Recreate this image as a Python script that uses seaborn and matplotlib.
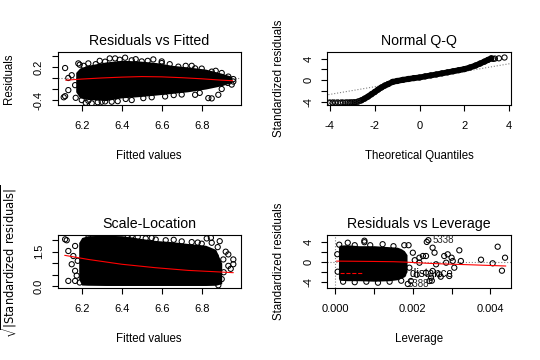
import matplotlib
matplotlib.use("Agg")
import matplotlib.pyplot as plt
from matplotlib.lines import Line2D
import seaborn as sns

# ---- Residuals vs Fitted ----
RF_X = [6.17, 6.19, 6.23, 6.32, 6.40, 6.48, 6.57, 6.65, 6.73, 6.82, 6.90, 6.95]
RF_UP = [0.10, 0.18, 0.23, 0.29, 0.32, 0.31, 0.28, 0.23, 0.20, 0.16, 0.085, 0.03]
RF_LO = [-0.25, -0.36, -0.39, -0.41, -0.36, -0.34, -0.31, -0.28, -0.25, -0.20, -0.14, -0.08]
RF_PX = [6.117, 6.133, 6.133, 6.117, 6.11, 6.17, 6.167, 6.19, 6.15,
         6.183, 6.233, 6.27, 6.317, 6.34, 6.367, 6.417, 6.45, 6.5, 6.558, 6.6,
         6.683, 6.72, 6.767, 6.8, 6.85, 6.9, 6.933,
         6.958, 6.958, 6.95, 6.93,
         6.883, 6.833, 6.85, 6.767, 6.7, 6.617, 6.55, 6.508, 6.45, 6.38,
         6.317, 6.28, 6.233, 6.2, 6.25, 6.22, 6.35, 6.9, 6.6,
         6.21, 6.29, 6.39, 6.47, 6.53, 6.64, 6.75, 6.87, 6.79, 6.66, 6.42, 6.3]
RF_PY = [0.18, 0.0, -0.22, -0.33, -0.35, -0.36, -0.13, 0.24, 0.05,
         0.264, 0.264, 0.25, 0.295, 0.354, 0.354, 0.367, 0.32, 0.30, 0.336, 0.27,
         0.205, 0.22, 0.174, 0.17, 0.115, 0.09, 0.025,
         -0.065, -0.02, -0.12, -0.09,
         -0.305, -0.365, -0.37, -0.305, -0.30, -0.335, -0.35, -0.365, -0.40, -0.42,
         -0.425, -0.44, -0.413, -0.40, -0.46, -0.45, -0.43, -0.20, 0.30,
         0.22, 0.31, 0.33, 0.34, 0.31, 0.25, 0.22, 0.13, -0.27, -0.31, -0.38, -0.43]
RF_LX = [6.12, 6.2, 6.3, 6.4, 6.5, 6.6, 6.7, 6.8, 6.9, 6.955]
RF_LY = [-0.04, -0.02, 0.0, 0.015, 0.025, 0.02, 0.005, -0.015, -0.04, -0.05]

# ---- Normal Q-Q ----
QQ_X = [-2.9, -2.75, -2.6, -2.45, -2.3, -2.15, -2.0, -1.85, -1.7, -1.55, -1.4,
        -1.2, -1.0, -0.75, -0.5, -0.25, 0.0, 0.25, 0.5, 0.75, 1.0, 1.25, 1.5,
        1.75, 2.0, 2.25, 2.5, 2.7, 2.9, 3.05, 3.2]
QQ_Y = [-4.1, -3.98, -3.75, -3.42, -3.05, -2.62, -2.2, -1.75, -1.35, -1.0, -0.72,
        -0.32, -0.15, 0.05, 0.22, 0.38, 0.5, 0.7, 0.88, 1.06, 1.26, 1.45, 1.65,
        1.85, 2.05, 2.35, 2.72, 3.08, 3.45, 3.75, 4.05]
QQ_TX = [-4.0, -3.88, -3.76, -3.64, -3.52, -3.42, -3.32, -3.22, -3.13, -3.05, -2.98,
         3.28, 3.36, 3.54, 3.79]
QQ_TY = [-4.22, -4.2, -4.2, -4.19, -4.18, -4.18, -4.17, -4.17, -4.16, -4.15, -4.13,
         3.95, 4.0, 4.05, 4.2]
QQ_REF_X = [-4.2, 4.1]
QQ_REF_Y = [-2.78, 3.11]

# ---- Scale-Location ----
PS_X = [6.185, 6.2, 6.23, 6.32, 6.40, 6.48, 6.57, 6.65, 6.73, 6.82, 6.87, 6.90]
PS_UP = [1.9, 2.12, 2.2, 2.22, 2.2, 2.1, 1.99, 1.94, 1.86, 1.78, 1.6, 1.0]
PS_LO = [0.3, 0.04, 0.03, 0.02, 0.02, 0.02, 0.02, 0.02, 0.02, 0.02, 0.03, 0.1]
PS_PX = [6.117, 6.125, 6.167, 6.133, 6.158, 6.15, 6.167, 6.133, 6.167, 6.19, 6.175, 6.18,
         6.233, 6.3, 6.35, 6.43, 6.48, 6.52, 6.57, 6.62, 6.7, 6.75, 6.8,
         6.825, 6.846, 6.85, 6.89, 6.933, 6.958, 6.958, 6.933, 6.908, 6.92,
         6.88, 6.91, 6.883, 6.9, 6.945, 6.87, 6.55, 6.66, 6.78, 6.45]
PS_PY = [2.04, 2.0, 1.75, 1.53, 1.31, 0.95, 0.66, 0.22, 0.22, 0.15, 0.45, 1.1,
         2.22, 2.23, 2.22, 2.2, 2.15, 2.08, 2.03, 2.0, 1.95, 1.92, 1.85,
         2.08, 2.11, 1.89, 1.96, 1.38, 1.16, 0.95, 0.88, 1.16, 1.5,
         1.7, 0.6, 0.03, 0.3, 0.75, 1.3, 2.1, 2.02, 1.9, 2.2]
PS_LX = [6.115, 6.233, 6.4, 6.567, 6.733, 6.85, 6.958]
PS_LY = [1.34, 1.16, 0.95, 0.80, 0.68, 0.63, 0.58]

# ---- Residuals vs Leverage ----
LV_X = [0.00008, 0.0001, 0.0003, 0.0006, 0.001, 0.0014, 0.0016, 0.0017, 0.00178, 0.00185]
LV_UP = [2.8, 3.3, 3.4, 3.2, 3.2, 3.0, 2.9, 2.6, 2.2, 1.4]
LV_LO = [-3.3, -3.7, -3.8, -3.8, -3.9, -3.8, -3.6, -3.3, -3.0, -2.0]
LV_PX = [0.0001, 0.00032, 0.0005, 0.00075, 0.00075, 0.0009, 0.00122, 0.0015, 0.00178, 0.00189,
         0.00005, 0.00006, 0.0002, 0.0005, 0.0008, 0.0011, 0.0014, 0.0017,
         0.00236, 0.0024, 0.00251, 0.00256, 0.00226, 0.00234, 0.00217, 0.00281, 0.0029,
         0.0032, 0.00286, 0.00303, 0.00324, 0.00376, 0.00406, 0.00419, 0.00438, 0.0043,
         0.00307, 0.0026, 0.00251, 0.00234, 0.00247, 0.00243, 0.00268, 0.00294, 0.00191,
         0.00195, 0.00187, 0.00217, 0.003, 0.00272, 0.00249, 0.002, 0.0021, 0.00205]
LV_PY = [3.4, 3.8, 3.3, 4.2, 3.9, 3.3, 3.5, 3.1, 3.3, 3.3,
         1.5, -2.0, -4.0, -4.1, -4.0, -4.2, -4.0, -3.8,
         3.95, 4.3, 2.8, 1.8, 1.14, 1.14, 0.8, 1.14, 1.48,
         2.28, -0.2, 0.14, 0.14, 0.4, -0.32, 3.0, 0.8, -1.8,
         -1.2, -0.52, -1.86, -2.2, -3.2, -3.86, -2.52, -2.86, -1.2,
         -3.86, -4.45, -0.2, 0.8, -3.0, -3.8, 1.8, -2.6, 0.3]
LV_LX = [0.00003, 0.0005, 0.001, 0.0015, 0.0018, 0.0025, 0.003, 0.0035, 0.0044]
LV_LY = [0.12, 0.09, 0.05, 0.0, -0.08, -0.36, -0.5, -0.62, -0.86]

sns.set_style("ticks")
plt.rcParams["font.family"] = ["Liberation Sans", "DejaVu Sans"]
plt.rcParams["text.color"] = "black"

fig = plt.figure(figsize=(5.4, 3.6), dpi=100)
ax1 = fig.add_axes([0.1065, 0.7083, 0.3389, 0.1472])
ax2 = fig.add_axes([0.6056, 0.7083, 0.3407, 0.1472])
ax3 = fig.add_axes([0.1065, 0.2000, 0.3389, 0.1472])
ax4 = fig.add_axes([0.6056, 0.2000, 0.3407, 0.1472])

PT = dict(marker="o", s=14, facecolors="none", edgecolor="black", linewidth=0.75, zorder=3)
RED = dict(color="red", linewidth=0.8, zorder=5)


def style(ax, title, xlabel, ylabel, xticks, xlabels, yticks, ylabels, xlim, ylim):
    ax.set_xlim(*xlim)
    ax.set_ylim(*ylim)
    ax.set_xticks(xticks)
    ax.set_xticklabels(xlabels)
    ax.set_yticks(yticks)
    ax.set_yticklabels(ylabels)
    for side in ax.spines.values():
        side.set_color("black")
        side.set_linewidth(0.8)
        side.set_visible(True)
    ax.tick_params(length=4.3, width=0.8, color="black", labelsize=8.0,
                   labelcolor="black")
    ax.tick_params(axis="x", pad=7.5)
    ax.tick_params(axis="y", pad=5.5, labelrotation=90)
    for lab in ax.get_yticklabels():
        lab.set_va("center")
    ax.set_title(title, fontsize=10.2, y=1.21, pad=0, va="center", color="black")
    ax.set_xlabel(xlabel, fontsize=8.3, color="black")
    ax.set_ylabel(ylabel, fontsize=8.3, color="black")
    ax.xaxis.set_label_coords(0.5, -0.96)
    ax.xaxis.label.set_va("center")
    ax.yaxis.set_label_coords(-0.263, 0.5)
    ax.yaxis.label.set_va("center")
    ax.grid(False)


# Residuals vs Fitted
ax1.axhline(0, color="gray", linestyle=":", linewidth=0.8, zorder=1)
ax1.fill_between(RF_X, RF_LO, RF_UP, color="black", linewidth=0, zorder=2)
sns.scatterplot(x=RF_PX, y=RF_PY, ax=ax1, **PT)
sns.lineplot(x=RF_LX, y=RF_LY, ax=ax1, **RED)
style(ax1, "Residuals vs Fitted", "Fitted values", "Residuals",
      [6.2, 6.4, 6.6, 6.8], ["6.2", "6.4", "6.6", "6.8"],
      [-0.4, -0.2, 0.0, 0.2, 0.4], ["-0.4", "", "", "0.2", ""],
      (6.079, 6.994), (-0.49, 0.47))

# Normal Q-Q
sns.lineplot(x=QQ_REF_X, y=QQ_REF_Y, ax=ax2, color="gray", linestyle=":",
             linewidth=0.8, zorder=1)
sns.lineplot(x=QQ_X, y=QQ_Y, ax=ax2, color="black", linewidth=4.2, zorder=2)
sns.scatterplot(x=QQ_X, y=QQ_Y, ax=ax2, **PT)
sns.scatterplot(x=QQ_TX, y=QQ_TY, ax=ax2, **PT)
ax2.text(-4.12, -4.18, "5398", fontsize=5.5, ha="left", va="center", color="#222222")
ax2.text(-3.32, -4.18, "5388", fontsize=5.5, ha="left", va="center", color="#222222")
style(ax2, "Normal Q-Q", "Theoretical Quantiles", "Standardized residuals",
      [-4, -2, 0, 2, 4], ["-4", "-2", "0", "2", "4"],
      [-4, -2, 0, 2, 4], ["-4", "", "0", "", "4"],
      (-4.13, 4.08), (-4.61, 5.22))

# Scale-Location
ax3.fill_between(PS_X, PS_LO, PS_UP, color="black", linewidth=0, zorder=2)
sns.scatterplot(x=PS_PX, y=PS_PY, ax=ax3, **PT)
sns.lineplot(x=PS_LX, y=PS_LY, ax=ax3, **RED)
style(ax3, "Scale-Location", "Fitted values", r"$\sqrt{|\mathrm{Standardized\ residuals}|}$",
      [6.2, 6.4, 6.6, 6.8], ["6.2", "6.4", "6.6", "6.8"],
      [0.0, 0.5, 1.0, 1.5, 2.0], ["0.0", "", "", "1.5", ""],
      (6.079, 6.994), (-0.09, 2.23))

# Residuals vs Leverage
ax4.axhline(0, color="gray", linestyle=":", linewidth=0.8, zorder=1)
ax4.axvline(0, color="gray", linestyle=":", linewidth=0.8, zorder=1)
ax4.fill_between(LV_X, LV_LO, LV_UP, color="black", linewidth=0, zorder=2)
sns.scatterplot(x=LV_PX, y=LV_PY, ax=ax4, **PT)
sns.lineplot(x=LV_LX, y=LV_LY, ax=ax4, **RED)
ax4.text(0.0025, 4.4, "5338", fontsize=7.0, ha="left", va="center", color="#222222", zorder=6)
ax4.text(0.00187, -4.4, "5388", fontsize=7.0, ha="left", va="center", color="#222222", zorder=6)
leg = ax4.legend([Line2D([], [], color="red", linestyle="--", linewidth=0.8)], ["Cook's distance"],
                 loc="center right", bbox_to_anchor=(0.685, 0.26), frameon=False, fontsize=8.3,
                 borderpad=0, borderaxespad=0, handlelength=2.0, handletextpad=0.8)
leg.set_zorder(2.5)
for t in leg.get_texts():
    t.set_color("black")
style(ax4, "Residuals vs Leverage", "Leverage", "Standardized residuals",
      [0.0, 0.001, 0.002, 0.003, 0.004], ["0.000", "", "0.002", "", "0.004"],
      [-4, -2, 0, 2, 4], ["-4", "", "0", "", "4"],
      (-0.000215, 0.004534), (-5.26, 5.34))

fig.savefig("out.png", dpi=100)
